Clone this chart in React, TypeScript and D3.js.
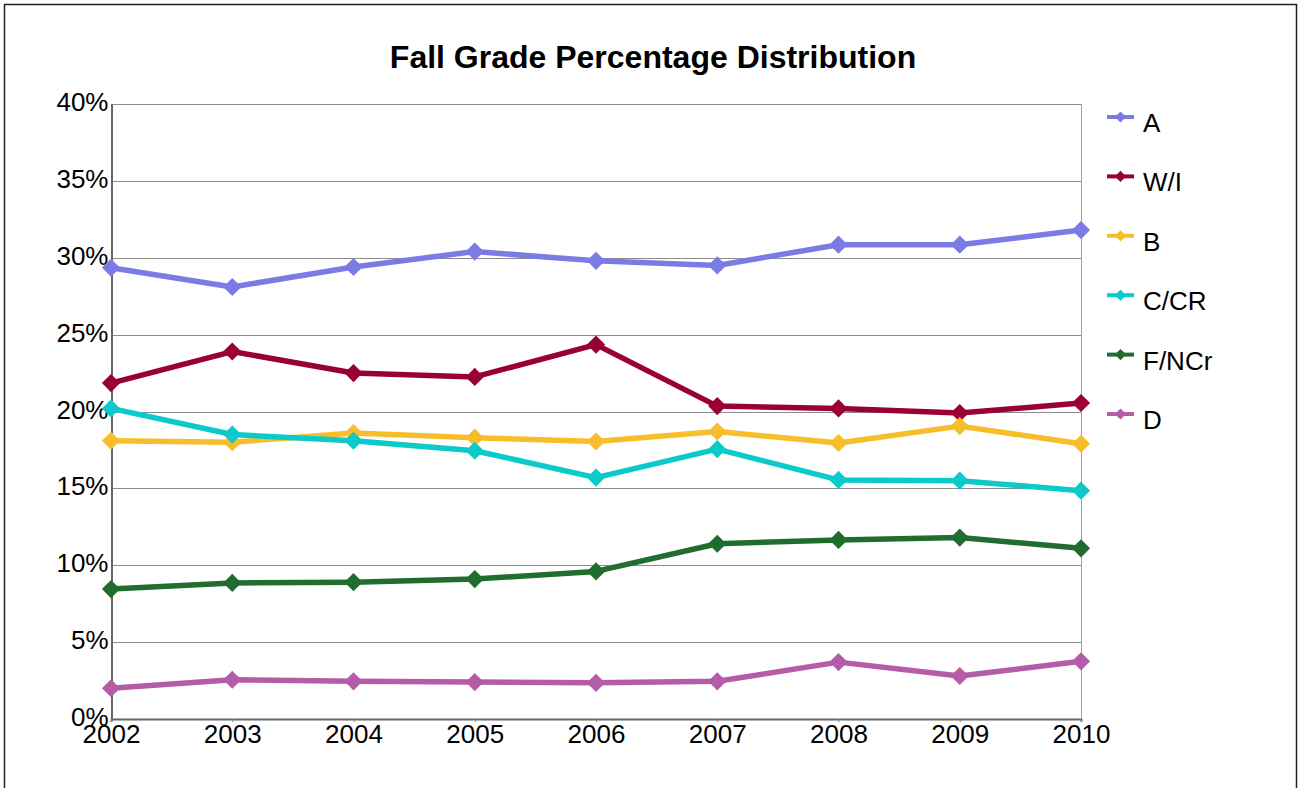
import * as d3 from "d3";
import { useEffect, useRef } from "react";

const years = ["2002", "2003", "2004", "2005", "2006", "2007", "2008", "2009", "2010"];
const seriesNames = ["A", "W/I", "B", "C/CR", "F/NCr", "D"];
const seriesColors = ["#7b7be6", "#990033", "#f8bd2a", "#0ccaca", "#216c2f", "#b45ca8"];

const gradeA = [29.35, 28.1, 29.4, 30.4, 29.8, 29.5, 30.85, 30.85, 31.8];
const gradeWI = [21.85, 23.9, 22.5, 22.25, 24.35, 20.35, 20.2, 19.9, 20.55];
const gradeB = [18.1, 18.0, 18.6, 18.3, 18.05, 18.7, 17.95, 19.05, 17.9];
const gradeC = [20.2, 18.5, 18.1, 17.45, 15.7, 17.55, 15.55, 15.5, 14.85];
const gradeF = [8.45, 8.85, 8.9, 9.1, 9.6, 11.4, 11.65, 11.8, 11.1];
const gradeD = [2.0, 2.55, 2.45, 2.4, 2.35, 2.45, 3.7, 2.8, 3.75];

const yTicks = [0, 5, 10, 15, 20, 25, 30, 35, 40];

const allSeries = [gradeA, gradeWI, gradeB, gradeC, gradeF, gradeD];

export default function App() {
    const svgRef = useRef<SVGSVGElement>(null);
    const width = 1300;
    const height = 788;
    const plotLeft = 111;
    const plotRight = 1081;
    const plotTop = 104;
    const plotBottom = 719;
    const font = "'Liberation Sans', Arial, sans-serif";

    useEffect(() => {
        if (svgRef.current) drawChart();
    }, []);

    const drawChart = () => {
        const svg = d3.select(svgRef.current);
        svg.selectAll("*").remove();

        // outer frame, bottom edge is cut off by the window
        svg.append("rect")
            .attr("x", 4.5)
            .attr("y", 4.5)
            .attr("width", 1292)
            .attr("height", 800)
            .attr("fill", "white")
            .attr("stroke", "#222")
            .attr("stroke-width", 1.5);

        const scaleX = d3.scalePoint().domain(years).range([plotLeft, plotRight]);
        const scaleY = d3.scaleLinear().domain([0, 40]).range([plotBottom, plotTop]);

        // title
        svg.append("text")
            .attr("x", 653)
            .attr("y", 68)
            .attr("text-anchor", "middle")
            .attr("font-family", font)
            .attr("font-weight", "bold")
            .attr("font-size", 32)
            .text("Fall Grade Percentage Distribution");

        // horizontal grid
        const grid = svg.append("g");
        yTicks.forEach((t) => {
            grid.append("line")
                .attr("x1", plotLeft)
                .attr("x2", plotRight)
                .attr("y1", Math.round(scaleY(t)) + 0.5)
                .attr("y2", Math.round(scaleY(t)) + 0.5)
                .attr("stroke", "#8c8c8c")
                .attr("stroke-width", 1);
        });
        // right border
        grid.append("line")
            .attr("x1", plotRight + 0.5)
            .attr("x2", plotRight + 0.5)
            .attr("y1", plotTop)
            .attr("y2", plotBottom)
            .attr("stroke", "#a0a0a0");

        // axes
        const axisY = svg.append("g").attr("transform", `translate(${plotLeft + 0.5},0)`)
            .call(d3.axisLeft(scaleY).tickValues(yTicks).tickSize(0).tickPadding(3).tickFormat((d) => `${d}%`));
        axisY.select(".domain").attr("stroke", "#666").attr("stroke-width", 2);
        axisY.selectAll("text").attr("font-family", font).attr("font-size", 26).attr("fill", "#000").attr("dy", "0.25em");

        const axisX = svg.append("g").attr("transform", `translate(0,${plotBottom})`)
            .call(d3.axisBottom(scaleX).tickSize(3).tickPadding(3));
        axisX.select(".domain").attr("stroke", "#666").attr("stroke-width", 2);
        axisX.selectAll(".tick line").attr("stroke", "#888");
        axisX.selectAll("text").attr("font-family", font).attr("font-size", 26).attr("fill", "#000");

        // lines and markers
        const line = d3.line<number>()
            .x((_, i) => scaleX(years[i]) as number)
            .y((d) => scaleY(d));
        const diamond = d3.symbol().type(d3.symbolDiamond2).size(210);

        allSeries.forEach((values, s) => {
            const g = svg.append("g");
            g.append("path")
                .attr("d", line(values))
                .attr("fill", "none")
                .attr("stroke", seriesColors[s])
                .attr("stroke-width", 5.5)
                .attr("stroke-linejoin", "round");
            values.forEach((v, i) => {
                g.append("path")
                    .attr("d", diamond())
                    .attr("transform", `translate(${scaleX(years[i])},${scaleY(v)})`)
                    .attr("fill", seriesColors[s]);
            });
        });

        // legend
        const legendY = d3.scalePoint().domain(seriesNames).range([117, 414]);
        seriesNames.forEach((name, s) => {
            const y = legendY(name) as number;
            const g = svg.append("g");
            g.append("line")
                .attr("x1", 1107)
                .attr("x2", 1134)
                .attr("y1", y)
                .attr("y2", y)
                .attr("stroke", seriesColors[s])
                .attr("stroke-width", 4);
            g.append("path")
                .attr("d", d3.symbol().type(d3.symbolDiamond2).size(80)())
                .attr("transform", `translate(1120.5,${y})`)
                .attr("fill", seriesColors[s]);
            g.append("text")
                .attr("x", 1143)
                .attr("y", y + 15)
                .attr("font-family", font)
                .attr("font-size", 26)
                .text(name);
        });
    };

    return (
        <svg ref={svgRef} width={width} height={height} style={{ position: "absolute", left: 0, top: 0 }} />
    );
}
